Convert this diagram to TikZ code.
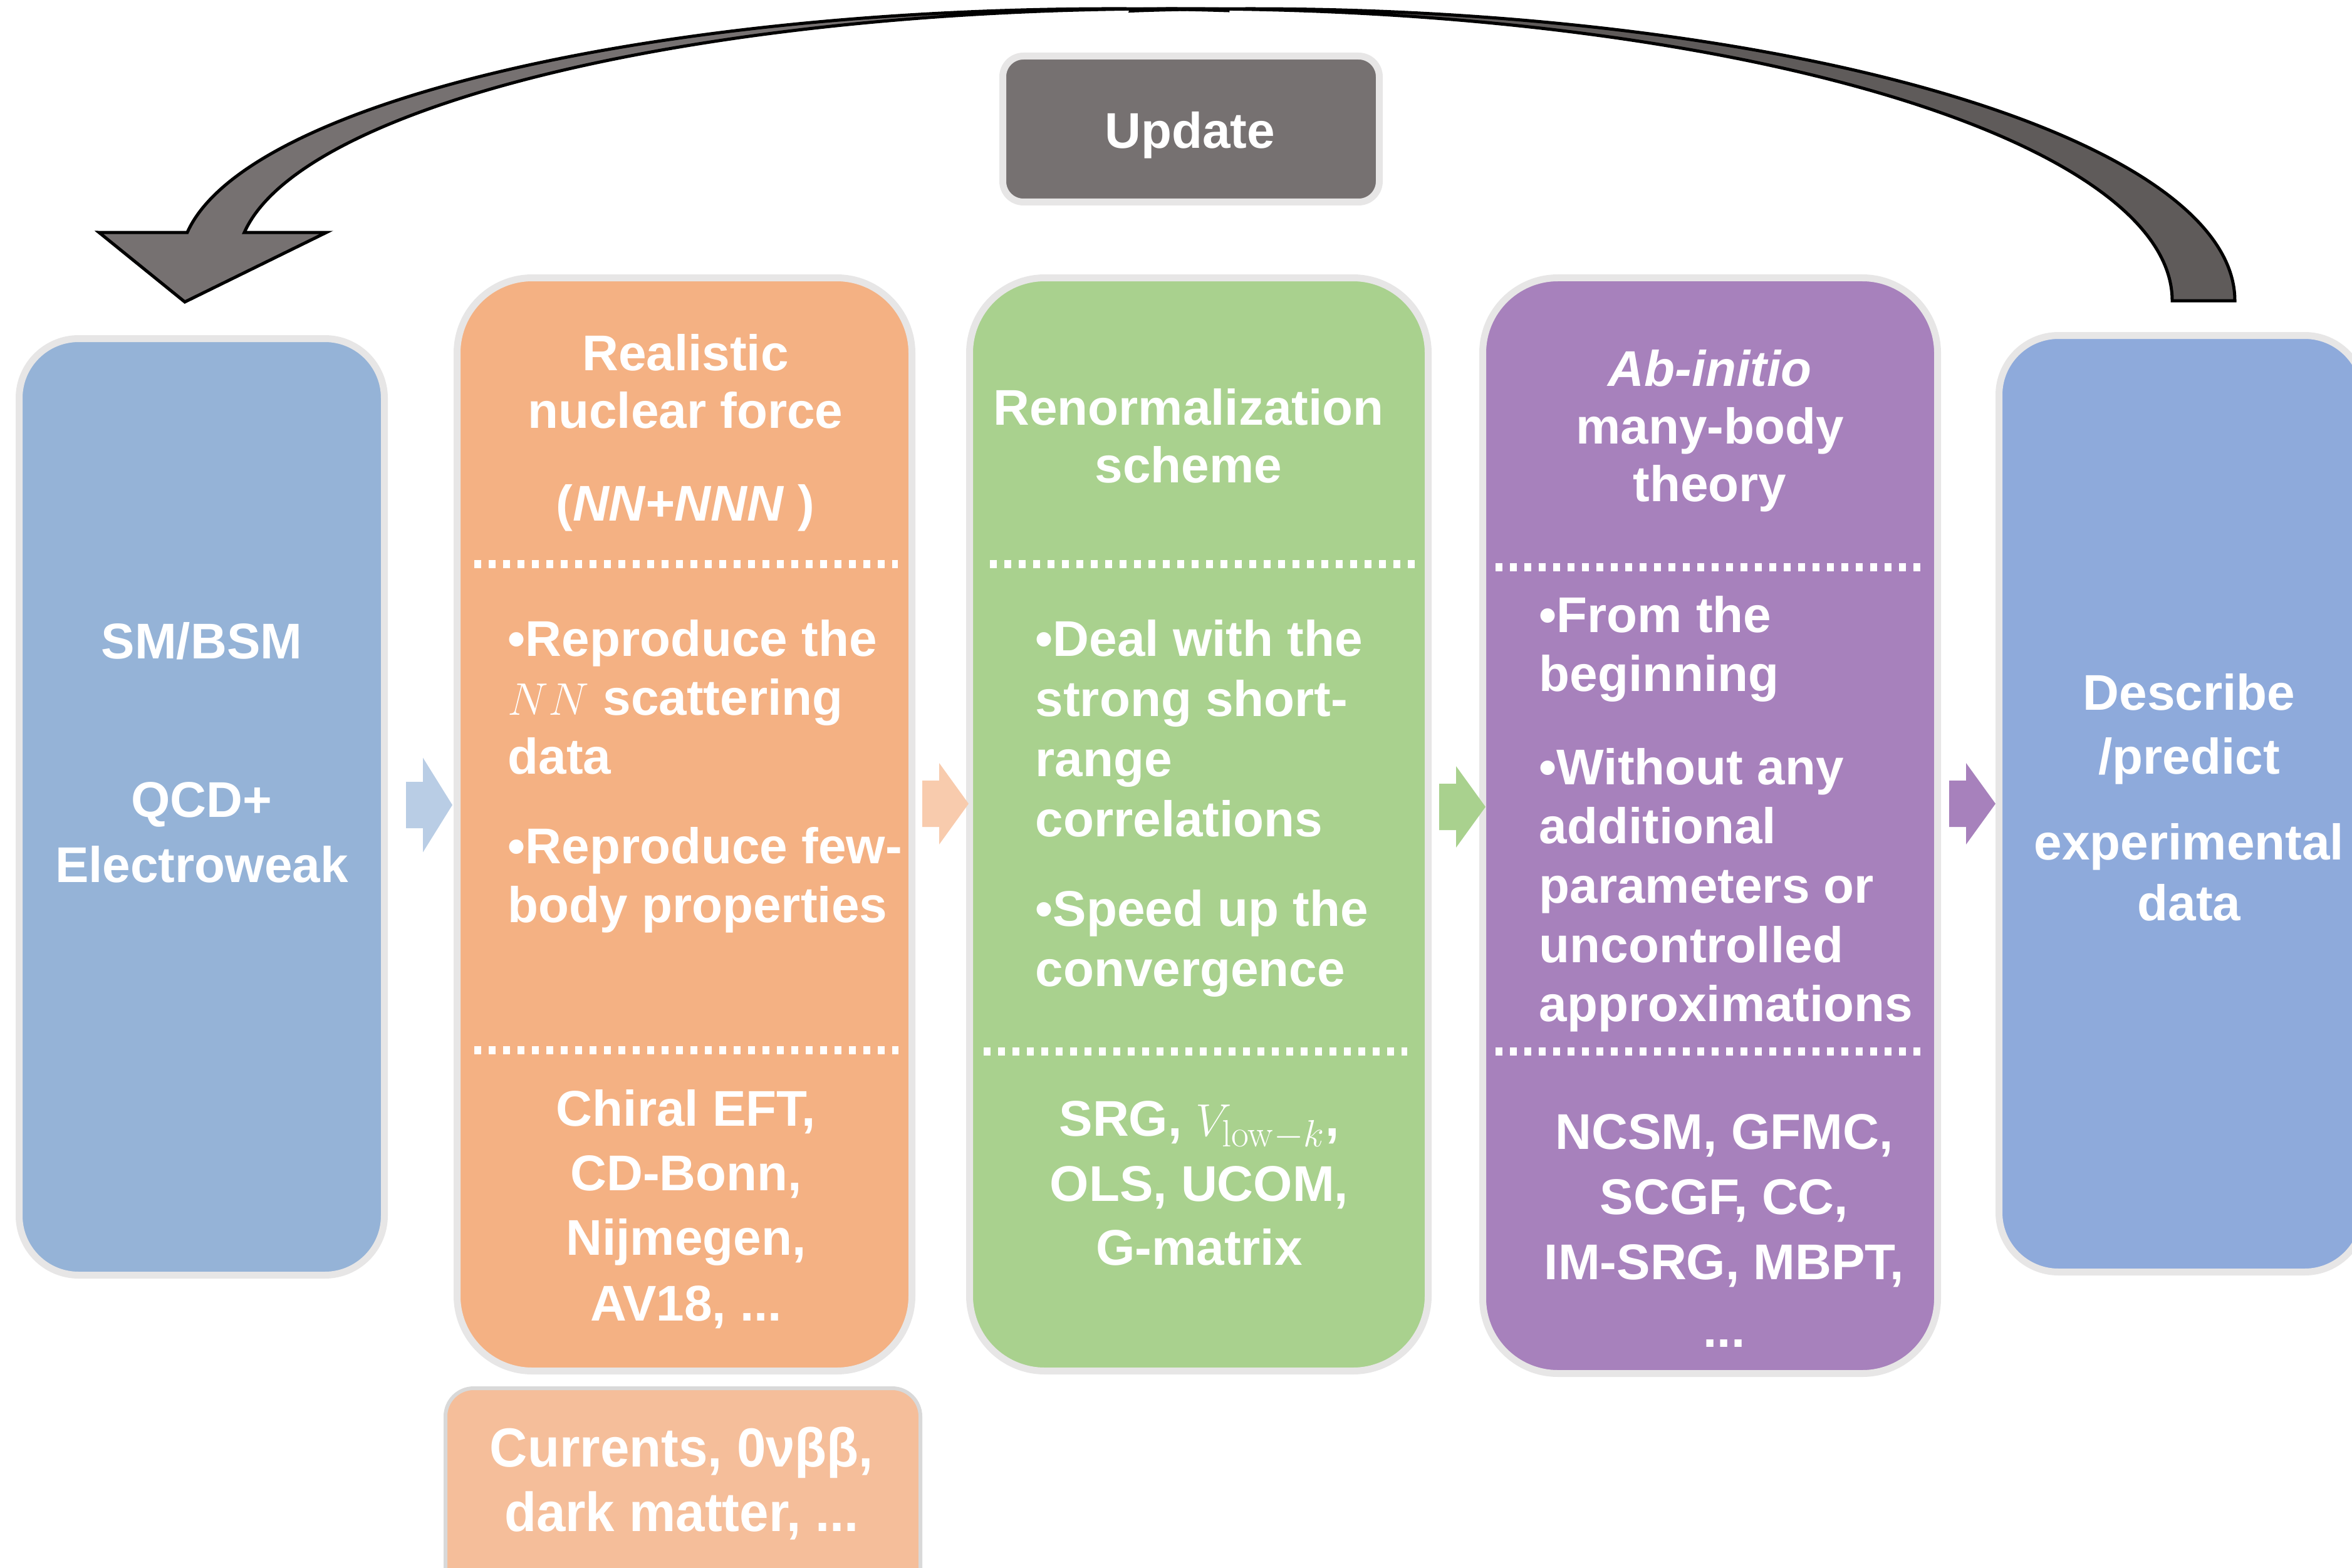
\documentclass[tikz,border=0pt]{standalone}
\usepackage[no-math]{fontspec}
\setmainfont{Liberation Sans}
\newfontfamily\narrowfont{Liberation Sans}[FakeStretch=0.95]
\usetikzlibrary{calc}

\definecolor{smblue}{HTML}{95B3D7}
\definecolor{expblue}{HTML}{8EAADB}
\definecolor{forceorange}{HTML}{F4B183}
\definecolor{renormgreen}{HTML}{A9D18E}
\definecolor{abpurple}{HTML}{A781BC}
\definecolor{rimgray}{HTML}{E7E6E6}
\definecolor{curgray}{HTML}{D9D9D9}
\definecolor{updgray}{HTML}{767171}
\definecolor{backgray}{HTML}{5F5B5A}
\definecolor{curorange}{HTML}{F5BE9A}
\definecolor{arrblue}{HTML}{B9CDE5}
\definecolor{arrorange}{HTML}{F8CBAD}

\tikzset{
  box/.style={draw=rimgray, line width=0.11cm, rounded corners=1.2cm},
  lbl/.style={text=white, inner sep=0pt, anchor=base, font=\bfseries\fontsize{22.8}{27}\selectfont},
  dots/.style={white, line width=0.13cm, dash pattern=on 0.11cm off 0.12cm},
}

\begin{document}
\begin{tikzpicture}
\clip (0,0) rectangle (37.54,-25.03);

% update loop arrow (two crescents)
\coordinate (fc) at (17.80,-4.20);
\coordinate (bc) at (18.96,-4.80);
\filldraw[fill=backgray, draw=black, line width=0.05cm] (35.67,-4.80)
  arc[start angle=0, end angle=97, x radius=15.71, y radius=4.66]
  -- ([shift={(93.3:15.71cm and 4.66cm)}]bc)
  arc[start angle=93.3, end angle=0, x radius=15.71, y radius=4.66] -- cycle;
\filldraw[fill=updgray, draw=black, line width=0.05cm] ([shift={(83.07:14.92cm and 4.06cm)}]fc)
  arc[start angle=83.07, end angle=173.07, x radius=14.92, y radius=4.06]
  -- (1.58,-3.71) -- (2.95,-4.82) -- (5.21,-3.71) -- (3.90,-3.71)
  arc[start angle=173.07, end angle=86.58, x radius=14.92, y radius=4.06] -- cycle;

% boxes
\node[box, fill=updgray, rounded corners=0.33cm, minimum width=6.01cm, minimum height=2.33cm] (update) at (19.01,-2.06) {};
\node[box, fill=smblue, rounded corners=0.95cm, minimum width=5.83cm, minimum height=14.95cm] (sm) at (3.22,-12.88) {};
\node[box, fill=forceorange, minimum width=7.26cm, minimum height=17.45cm] (force) at (10.925,-13.16) {};
\node[box, fill=renormgreen, minimum width=7.32cm, minimum height=17.45cm] (renorm) at (19.135,-13.16) {};
\node[box, fill=abpurple, minimum width=7.26cm, minimum height=17.49cm] (abinitio) at (27.295,-13.18) {};
\node[box, fill=expblue, rounded corners=0.95cm, minimum width=5.83cm, minimum height=14.95cm] (exp) at (34.82,-12.83) {};
\node[box, draw=curgray, line width=0.06cm, fill=curorange, rounded corners=0.45cm, minimum width=7.58cm, minimum height=3.5cm] (cur) at (10.90,-23.91) {};

% block arrows between the boxes
\foreach \x/\y/\h/\c in {6.48/-12.85/0.755/arrblue, 14.72/-12.83/0.65/arrorange, 22.97/-12.88/0.65/renormgreen, 31.11/-12.83/0.65/abpurple}
  \fill[\c] (\x,\y+0.37) -- (\x+0.27,\y+0.37) -- (\x+0.27,\y+\h) -- (\x+0.74,\y) -- (\x+0.27,\y-\h) -- (\x+0.27,\y-0.37) -- (\x,\y-0.37) -- cycle;

% dotted separators
\draw[dots] (7.57,-9.00) -- (14.33,-9.00);
\draw[dots] (7.57,-16.76) -- (14.34,-16.76);
\draw[dots] (15.80,-9.00) -- (22.58,-9.00);
\draw[dots] (15.70,-16.78) -- (22.46,-16.78);
\draw[dots] (23.87,-9.05) -- (30.67,-9.05);
\draw[dots] (23.87,-16.78) -- (30.67,-16.78);

% texts
\node[lbl] (updtxt) at (18.99,-2.37) {Update};

\node[lbl] (sm1) at (3.22,-10.51) {SM/BSM};
\node[lbl] (sm2) at (3.22,-13.04) {QCD+};
\node[lbl] (sm3) at (3.22,-14.08) {Electroweak};

\node[lbl] (exp1) at (34.94,-11.33) {Describe};
\node[lbl] (exp2) at (34.94,-12.35) {/predict};
\node[lbl] (exp3) at (34.94,-13.72) {experimental};
\node[lbl] (exp4) at (34.94,-14.69) {data};

\foreach \y/\t [count=\i] in {5.91/Realistic, 6.83/nuclear force, 8.31/{(\textit{NN+NNN} )}}
  \node[lbl] (fh\i) at (10.94,-\y) {\t};
\foreach \y/\t [count=\i] in {10.47/{•Reproduce the}, 11.41/{$NN$ scattering}, 12.35/data, 13.78/{•Reproduce few-}, 14.72/{body properties}}
  \node[lbl, anchor=base west] (fb\i) at (8.10,-\y) {\t};
\foreach \y/\t [count=\i] in {17.97/{Chiral EFT,}, 19.00/{CD-Bonn,}, 20.03/{Nijmegen,}, 21.08/{AV18, {...}}}
  \node[lbl] (ff\i) at (10.95,-\y) {\t};

\foreach \y/\t [count=\i] in {6.78/Renormalization, 7.70/scheme}
  \node[lbl] (rh\i) at (18.97,-\y) {\t};
\foreach \y/\t [count=\i] in {10.47/{•Deal with the}, 11.43/{strong short-}, 12.39/range, 13.35/correlations, 14.78/{•Speed up the}, 15.74/convergence}
  \node[lbl, anchor=base west] (rb\i) at (16.52,-\y) {\t};
\foreach \y/\t [count=\i] in {18.13/{SRG, $V_{\mathrm{low}-k}$,}, 19.17/{OLS, UCOM,}, 20.19/G-matrix}
  \node[lbl] (rf\i) at (19.14,-\y) {\t};

\foreach \y/\t [count=\i] in {6.16/{\textit{Ab-initio}}, 7.08/many-body, 8.00/theory}
  \node[lbl] (ah\i) at (27.29,-\y) {\t};
\foreach \y/\t [count=\i] in {10.09/{•From the}, 11.03/beginning, 12.52/{•Without any}, 13.46/additional, 14.41/{parameters or}, 15.36/uncontrolled, 16.30/approximations}
  \node[lbl, anchor=base west] (ab\i) at (24.56,-\y) {\t};
\foreach \y/\t [count=\i] in {18.34/{NCSM, GFMC,}, 19.38/{SCGF, CC,}, 20.42/{IM-SRG, MBPT,}}
  \node[lbl] (af\i) at (27.52,-\y) {\t};
\node[lbl] (af4) at (27.52,-21.50) {...};

\node[lbl, font=\narrowfont\bfseries\fontsize{25}{30}\selectfont] (cur1) at (10.88,-23.41) {Currents, 0νββ,};
\node[lbl, font=\narrowfont\bfseries\fontsize{25}{30}\selectfont] (cur2) at (10.88,-24.44) {dark matter, ...};
\end{tikzpicture}
\end{document}
